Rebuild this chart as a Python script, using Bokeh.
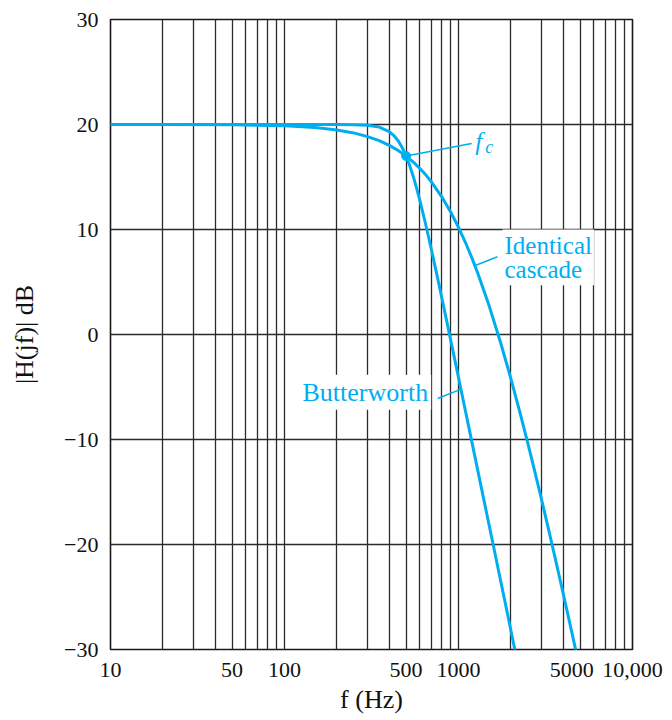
from bokeh.plotting import figure
from bokeh.models import FixedTicker, Label
from bokeh.embed import file_html
from bokeh.resources import INLINE

# ---------------- data ----------------
bw_freq = [10, 20, 50, 100, 150, 200, 250, 300, 350, 400, 425, 450, 475, 500,
           525, 550, 575, 600, 650, 700, 750, 800, 850, 900, 950, 1000,
           1100, 1200, 1300, 1400, 1500, 1600, 1700, 1800, 1900, 2000, 2100, 2200]
bw_db = [20.0, 20.0, 20.0, 20.0, 20.0, 20.0, 19.98, 19.93, 19.76, 19.33, 18.95, 18.45, 17.79, 16.99,
         16.06, 15.03, 13.92, 12.76, 10.38, 8.02, 5.75, 3.57, 1.50, -0.46, -2.32, -4.10,
         -7.40, -10.42, -13.20, -15.77, -18.17, -20.41, -22.52, -24.50, -26.38, -28.17, -29.90, -31.48]

casc_freq = [10, 20, 50, 100, 150, 200, 250, 300, 350, 400, 450, 500,
             550, 600, 650, 700, 800, 900, 1000,
             1100, 1200, 1300, 1500, 1750, 2000,
             2250, 2500, 2750, 3000, 3250, 3500, 3750, 4000, 4250, 4500, 4750]
casc_db = [20.0, 19.99, 19.97, 19.87, 19.71, 19.48, 19.20, 18.85, 18.46, 18.01, 17.52, 16.99,
           16.42, 15.81, 15.18, 14.52, 13.14, 11.69, 10.21,
           8.71, 7.20, 5.69, 2.73, -0.83, -4.20,
           -7.36, -10.33, -13.10, -15.71, -18.16, -20.46, -22.64, -24.70, -26.66, -28.51, -30.28]

fc_point = (500, 17.0)

x_major = [10, 50, 100, 500, 1000, 5000, 10000]
x_major_labels = ["10", "50", "100", "500", "1000", "5000\u00a0\u00a0\u00a0", "10,000"]
x_minor = [20, 30, 40, 60, 70, 80, 90, 200, 300, 400, 600, 700, 800, 900,
           2000, 3000, 4000, 6000, 7000, 8000, 9000]
y_ticks = [-30, -20, -10, 0, 10, 20, 30]
y_tick_labels = ["\u221230", "\u221220", "\u221210", "0", "10", "20", "30"]

x_title = "f (Hz)"
y_title = "|H(jf)| dB"

# leader lines (data coordinates)
fc_leader_x = [500, 1190]
fc_leader_y = [17.0, 18.2]
casc_leader_x = [1260, 1675]
casc_leader_y = [6.6, 7.4]
bw_leader_x = [760, 1035]
bw_leader_y = [-6.1, -5.2]

CYAN = "#00AEEF"
SERIF = "Liberation Serif"
INK = "#111111"

p = figure(width=670, height=718, x_axis_type="log",
           x_range=(10, 10000), y_range=(-30, 30),
           output_backend="svg", toolbar_location=None,
           min_border_left=110, min_border_right=38,
           min_border_top=19, min_border_bottom=69)

p.background_fill_color = "white"
p.outline_line_color = "#1a1a1a"
p.outline_line_width = 1.6

# axes
xa = p.xaxis[0]
xa.ticker = FixedTicker(ticks=x_major, minor_ticks=x_minor)
xa.major_label_overrides = {v: s for v, s in zip(x_major, x_major_labels)}
ya = p.yaxis[0]
ya.ticker = FixedTicker(ticks=y_ticks)
ya.major_label_overrides = {v: s for v, s in zip(y_ticks, y_tick_labels)}
for ax in (xa, ya):
    ax.axis_line_color = None
    ax.major_tick_line_color = None
    ax.minor_tick_line_color = None
    ax.major_tick_out = 0
    ax.minor_tick_out = 0
    ax.major_tick_in = 0
    ax.minor_tick_in = 0
    ax.major_label_text_font = SERIF
    ax.major_label_text_font_size = "22px"
    ax.major_label_text_color = INK
    ax.axis_label_text_font = SERIF
    ax.axis_label_text_font_size = "26px"
    ax.axis_label_text_font_style = "normal"
    ax.axis_label_text_color = INK
xa.major_label_standoff = 7
ya.major_label_standoff = 12
xa.axis_label = x_title
ya.axis_label = y_title
xa.axis_label_standoff = 0
ya.axis_label_standoff = 22

# grid
p.xgrid.grid_line_color = "#2b2b2b"
p.xgrid.grid_line_width = 1.3
p.xgrid.minor_grid_line_color = "#2b2b2b"
p.xgrid.minor_grid_line_width = 1.3
p.ygrid.grid_line_color = "#2b2b2b"
p.ygrid.grid_line_width = 1.3

# curves
p.line(bw_freq, bw_db, line_color=CYAN, line_width=3, line_join="round")
p.line(casc_freq, casc_db, line_color=CYAN, line_width=3, line_join="round")
p.scatter([fc_point[0]], [fc_point[1]], size=9, color=CYAN)

# leader lines
p.line(fc_leader_x, fc_leader_y, line_color=CYAN, line_width=1.5)
p.line(casc_leader_x, casc_leader_y, line_color=CYAN, line_width=1.5)
p.line(bw_leader_x, bw_leader_y, line_color=CYAN, line_width=1.5)

# annotation texts
p.add_layout(Label(x=1250, y=18.35, text="f", text_font=SERIF, text_font_style="italic",
                   text_font_size="25px", text_color=CYAN, text_align="left",
                   text_baseline="alphabetic"))
p.add_layout(Label(x=1425, y=17.85, text="c", text_font=SERIF, text_font_style="italic",
                   text_font_size="18px", text_color=CYAN, text_align="left",
                   text_baseline="alphabetic"))
p.add_layout(Label(x=1790, y=10.0, text="Identical\ncascade", text_font=SERIF,
                   text_font_size="25px", text_color=CYAN, text_align="left",
                   text_baseline="top", text_line_height=0.92,
                   background_fill_color="white", background_fill_alpha=1.0,
                   padding=2))
p.add_layout(Label(x=122, y=-5.5, text="Butterworth", text_font=SERIF,
                   text_font_size="26px", text_color=CYAN, text_align="left",
                   text_baseline="middle",
                   background_fill_color="white", background_fill_alpha=1.0,
                   padding=3))

open("out.html", "w").write(file_html(p, INLINE))
